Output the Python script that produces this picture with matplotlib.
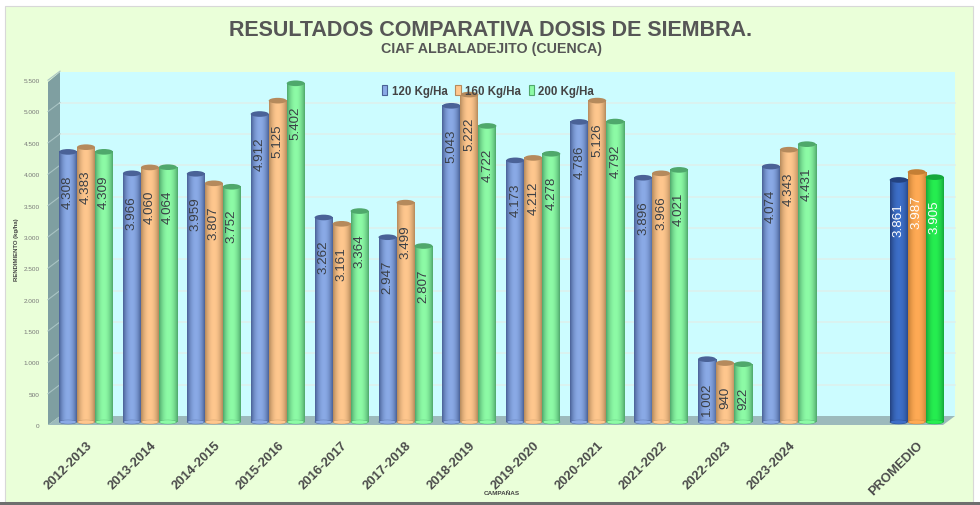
import numpy as np
import matplotlib
matplotlib.use("Agg")
import matplotlib.pyplot as plt
import matplotlib.transforms as mtransforms
from matplotlib.patches import Ellipse, Patch, Polygon, Rectangle
from matplotlib.colors import LinearSegmentedColormap

plt.rcParams["font.family"] = ["Liberation Sans", "DejaVu Sans"]

campaigns = ["2012-2013", "2013-2014", "2014-2015", "2015-2016", "2016-2017", "2017-2018",
             "2018-2019", "2019-2020", "2020-2021", "2021-2022", "2022-2023", "2023-2024",
             "", "PROMEDIO"]
dose_120 = [4308, 3966, 3959, 4912, 3262, 2947, 5043, 4173, 4786, 3896, 1002, 4074, None, 3861]
dose_160 = [4383, 4060, 3807, 5125, 3161, 3499, 5222, 4212, 5126, 3966, 940, 4343, None, 3987]
dose_200 = [4309, 4064, 3752, 5402, 3364, 2807, 4722, 4278, 4792, 4021, 922, 4431, None, 3905]
series_names = ["120 Kg/Ha", "160 Kg/Ha", "200 Kg/Ha"]
yticks = list(range(0, 5501, 500))

# edge, mid colours of each cylinder, normal and for the PROMEDIO group
colors = [("#4a6297", "#8aaae6"), ("#b58a5c", "#ffc78e"), ("#4fa86c", "#8dfba6")]
colors_avg = [("#24427f", "#3d6fc8"), ("#c47f35", "#ffaa55"), ("#14a83c", "#26ee50")]

W, H = 980, 506
fig = plt.figure(figsize=(W / 100, H / 100), dpi=100, facecolor="white")

# page background
bg = fig.add_axes([0, 0, 1, 1])
bg.set_xlim(0, W)
bg.set_ylim(H, 0)
bg.axis("off")
bg.add_patch(Rectangle((5, 7), 968, 496, fc="#eaffd9", ec="#d8d8d8", lw=0.8))
bg.add_patch(Rectangle((0, 503), W, 3, fc="#6e6e6e", ec="none"))

bg.text(491, 30, "RESULTADOS COMPARATIVA DOSIS DE SIEMBRA.", ha="center", va="center",
        fontsize=15.5, fontweight="bold", color="#565656")
bg.text(491, 49, "CIAF ALBALADEJITO (CUENCA)", ha="center", va="center",
        fontsize=10.3, fontweight="bold", color="#565656")

# plot area, y=0 on the front edge of the floor
left, right, base, top = 48, 955, 426, 73
ax = fig.add_axes([left / W, 1 - base / H, (right - left) / W, (base - top) / H])
px_per_unit = 62.7 / 1000
ax.set_ylim(0, (base - top) / px_per_unit)
ax.set_xlim((left - 86) / 63.9, (right - 86) / 63.9)
ax.patch.set_alpha(0)
for s in ax.spines.values():
    s.set_visible(False)

dx, dy = 12, 9
back = mtransforms.offset_copy(ax.transData, fig, x=dx, y=dy, units="dots")
mid = mtransforms.offset_copy(ax.transData, fig, x=0, y=3, units="dots")

# walls and floor
bg.add_patch(Rectangle((left + dx, top), right - left - dx, base - dy - top, fc="#ccfcff", ec="none"))
bg.add_patch(Polygon([(left, top + 10), (left + dx, top), (left + dx, base - dy), (left, base)],
                     fc="#7f9fa1", ec="none"))
bg.add_patch(Polygon([(left, base), (left + dx, base - dy), (right, base - dy), (right - dx, base)],
                     fc="#9cbabc", ec="none"))
for v in yticks[1:-1] + [yticks[-1]]:
    y_b = base - dy - v * px_per_unit
    if v < 5500:
        bg.plot([left + dx, right], [y_b, y_b], color="#dcf0ee", lw=1.2)
    bg.plot([left, left + dx], [y_b + dy, y_b], color="#a9c4c4", lw=0.8)

ax.set_yticks(yticks)
ax.set_yticklabels([f"{v:,}".replace(",", ".") for v in yticks], fontsize=4.6, color="#777777")
ax.set_xticks(range(len(campaigns)))
ax.set_xticklabels(campaigns, rotation=45, ha="right", rotation_mode="anchor",
                   fontsize=9.4, fontweight="bold", color="#4a4a4a")
ax.tick_params(axis="both", length=0)
ax.tick_params(axis="x", pad=10)
ax.tick_params(axis="y", pad=6)
ax.set_ylabel("RENDIMIENTO (kg/ha)", fontsize=4.3, fontweight="bold", color="#444444", labelpad=3)
ax.set_xlabel("CAMPAÑAS", fontsize=4.6, fontweight="bold", color="#444444", labelpad=-5)

bar_w = 18 / 63.9
grad = np.abs(np.linspace(-1, 1, 64))[None, :] ** 2

for i, values in enumerate([dose_120, dose_160, dose_200]):
    for j, v in enumerate(values):
        if v is None:
            continue
        is_avg = campaigns[j] == "PROMEDIO"
        edge, face = colors_avg[i] if is_avg else colors[i]
        cmap = LinearSegmentedColormap.from_list("cyl", [face, edge])
        x = j + (i - 1) * bar_w
        bar = ax.bar(x, v, width=bar_w, color=face, transform=mid, zorder=3 + i)[0]
        im = ax.imshow(grad, cmap=cmap, extent=(x - bar_w / 2, x + bar_w / 2, 0, v), aspect="auto",
                       transform=mid + mtransforms.IdentityTransform(), zorder=3 + i, vmin=0, vmax=1)
        # foot and cap of the cylinder
        ax.add_patch(Ellipse((x, 0), bar_w, 70, fc=edge, ec="none", transform=mid, zorder=3 + i))
        ax.add_patch(Ellipse((x, 0), bar_w * 0.9, 60, fc=face, ec="none", transform=mid, zorder=3 + i))
        ax.add_patch(Ellipse((x, v), bar_w, 90, fc=edge, ec="none", transform=mid, zorder=3 + i))
        ax.annotate(f"{v:,}".replace(",", "."), (x, v), xycoords=mid, xytext=(0, -16), textcoords="offset points",
                    rotation=90, ha="center", va="top", fontsize=9.6, zorder=10,
                    color="white" if is_avg else "#3a3f46")

ax.set_ylim(0, (base - top) / px_per_unit)
ax.set_xlim((left - 86) / 63.9, (right - 86) / 63.9)

handles = [Patch(fc=colors[k][1], ec=colors[k][0], lw=0.8, label=series_names[k]) for k in range(3)]
ax.legend(handles=handles, ncol=3, frameon=False, loc="upper center", bbox_to_anchor=(0.485, 0.992),
          prop={"size": 8.3, "weight": "bold"}, labelcolor="#444444", handlelength=0.45, handleheight=0.9,
          handletextpad=0.35, columnspacing=0.7)

fig.savefig("out.png", dpi=100)
